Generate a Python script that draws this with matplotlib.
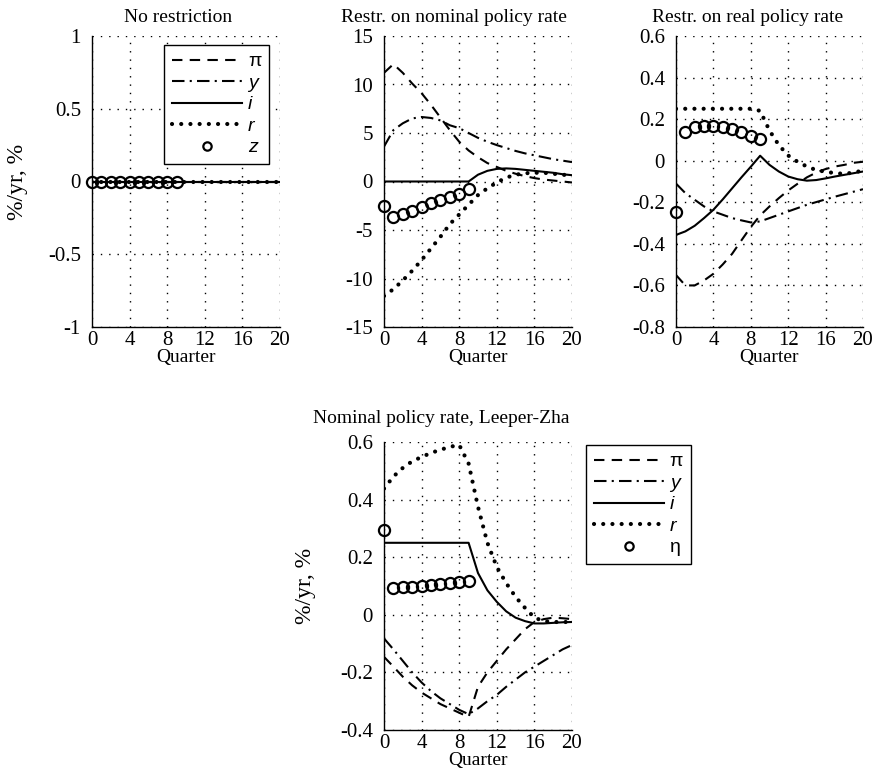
import numpy as np
import matplotlib
matplotlib.use("Agg")
import matplotlib.pyplot as plt
from matplotlib.ticker import FuncFormatter

plt.rcParams["font.family"] = ["Liberation Serif", "DejaVu Serif"]
plt.rcParams["axes.unicode_minus"] = False

quarters = np.arange(21)
z_quarters = np.arange(10)

# No restriction
nr_pi = np.zeros(21)
nr_y = np.zeros(21)
nr_i = np.zeros(21)
nr_r = np.zeros(21)
nr_z = np.zeros(10)

# Restriction on nominal policy rate
nom_pi = [11.2, 12.1, 11.2, 10.1, 9.1, 7.9, 6.6, 5.3, 4.1, 3.2, 2.5, 1.9, 1.5, 1.1, 0.8,
          0.55, 0.35, 0.2, 0.1, 0.0, -0.1]
nom_y = [3.6, 5.3, 6.0, 6.5, 6.65, 6.55, 6.3, 5.8, 5.5, 5.0, 4.5, 4.1, 3.75, 3.45, 3.15,
         2.9, 2.7, 2.5, 2.3, 2.15, 2.0]
nom_i = [0, 0, 0, 0, 0, 0, 0, 0, 0, 0, 0.7, 1.1, 1.3, 1.35, 1.3, 1.2, 1.1, 1.0, 0.9, 0.75, 0.65]
nom_r = [-11.8, -11.1, -10.2, -9.2, -8.1, -6.9, -5.7, -4.4, -3.4, -2.4, -1.4, -0.7, -0.1,
         0.4, 0.7, 0.85, 0.9, 0.9, 0.8, 0.7, 0.6]
nom_z = [-2.5, -3.7, -3.35, -3.0, -2.6, -2.25, -1.95, -1.6, -1.25, -0.8]

# Restriction on real policy rate
real_pi = [-0.55, -0.6, -0.6, -0.576, -0.544, -0.499, -0.448, -0.383, -0.319, -0.263, -0.22,
           -0.18, -0.143, -0.111, -0.08, -0.057, -0.04, -0.028, -0.02, -0.01, -0.005]
real_y = [-0.11, -0.156, -0.188, -0.22, -0.244, -0.26, -0.276, -0.287, -0.297, -0.292, -0.276,
          -0.26, -0.244, -0.228, -0.212, -0.199, -0.186, -0.173, -0.161, -0.149, -0.137]
real_i = [-0.357, -0.34, -0.313, -0.276, -0.236, -0.186, -0.133, -0.08, -0.029, 0.024, -0.02,
          -0.052, -0.076, -0.089, -0.096, -0.093, -0.085, -0.076, -0.068, -0.06, -0.052]
real_r = [0.25, 0.25, 0.25, 0.25, 0.25, 0.25, 0.25, 0.25, 0.25, 0.24, 0.145, 0.075, 0.025,
          -0.005, -0.028, -0.045, -0.053, -0.06, -0.063, -0.057, -0.047]
real_z = [-0.245, 0.137, 0.16, 0.169, 0.166, 0.162, 0.153, 0.137, 0.12, 0.104]

# Nominal policy rate, Leeper-Zha
lz_pi = [-0.146, -0.18, -0.215, -0.245, -0.27, -0.29, -0.31, -0.325, -0.34, -0.355, -0.25,
         -0.2, -0.16, -0.12, -0.085, -0.05, -0.025, -0.015, -0.01, -0.012, -0.015]
lz_y = [-0.082, -0.12, -0.16, -0.2, -0.235, -0.265, -0.29, -0.31, -0.33, -0.345, -0.325,
        -0.3, -0.278, -0.25, -0.225, -0.2, -0.18, -0.16, -0.14, -0.12, -0.105]
lz_i = [0.25, 0.25, 0.25, 0.25, 0.25, 0.25, 0.25, 0.25, 0.25, 0.25, 0.145, 0.085, 0.045,
        0.012, -0.01, -0.022, -0.03, -0.03, -0.028, -0.026, -0.025]
lz_r = [0.438, 0.48, 0.51, 0.533, 0.548, 0.562, 0.573, 0.583, 0.59, 0.525, 0.375, 0.25,
        0.166, 0.11, 0.062, 0.024, -0.01, -0.022, -0.025, -0.025, -0.025]
lz_eta = [0.294, 0.092, 0.095, 0.098, 0.101, 0.104, 0.107, 0.11, 0.114, 0.118]

W, H = 879, 780
fig = plt.figure(figsize=(W / 100, H / 100), dpi=100)


def fmt(v, pos):
    return "%g" % round(v, 3)


def draw_panel(rect, title, title_x, title_pad, pi, y, i, r, z, ylim, yticks, ylabel_x=None):
    left, top, right, bottom = rect
    ax = fig.add_axes([left / W, 1 - bottom / H, (right - left) / W, (bottom - top) / H])
    l1, = ax.plot(quarters, pi, color="k", lw=1.5, ls=(0, (5, 3.5)))
    l2, = ax.plot(quarters, y, color="k", lw=1.5, ls=(0, (6, 2.5, 1, 2.5)))
    l3, = ax.plot(quarters, i, color="k", lw=1.5, ls="-")
    l4, = ax.plot(quarters, r, color="k", lw=3.0, ls=(0, (0.01, 2.2)), dash_capstyle="round")
    l5, = ax.plot(z_quarters, z, ls="none", marker="o", ms=8, mfc="none", mec="k", mew=1.6,
                  clip_on=False, zorder=5)
    ax.set_xlim(0, 20)
    ax.set_ylim(*ylim)
    ax.set_xticks([0, 4, 8, 12, 16, 20])
    ax.set_yticks(yticks)
    ax.yaxis.set_major_formatter(FuncFormatter(fmt))
    ax.grid(True, color="k", ls=(0, (1, 5)), lw=1.0)
    for s in ["top", "right"]:
        ax.spines[s].set_visible(False)
    ax.spines["left"].set_linewidth(1.0)
    ax.spines["bottom"].set_linewidth(1.0)
    ax.tick_params(axis="x", length=0, labelsize=15, pad=3)
    ax.tick_params(axis="y", length=0, labelsize=15, pad=8)
    ax.set_title(title, fontsize=14, pad=title_pad, x=title_x)
    ax.set_xlabel("Quarter", fontsize=14, labelpad=-1)
    if ylabel_x is not None:
        ax.set_ylabel("%/yr, %", fontsize=17)
        ax.yaxis.set_label_coords(ylabel_x, 0.5)
    return ax, [l1, l2, l3, l4, l5]


def add_legend(ax, handles, labels, anchor, loc):
    leg = ax.legend(handles, labels, loc=loc, bbox_to_anchor=(anchor[0] / W, 1 - anchor[1] / H),
                    bbox_transform=fig.transFigure, borderaxespad=0, fancybox=False,
                    framealpha=1, edgecolor="k", handlelength=3.6, labelspacing=0.2,
                    handletextpad=0.3, borderpad=0.4, markerscale=0.75,
                    prop={"family": "Liberation Sans", "size": 14})
    leg.get_frame().set_linewidth(1.0)
    for k, t in enumerate(leg.get_texts()):
        if labels[k] in ("y", "i", "r", "z"):
            t.set_fontstyle("italic")
    return leg


ax1, h1 = draw_panel((92, 36, 280, 327), "No restriction", 0.457, 10, nr_pi, nr_y, nr_i, nr_r,
                     nr_z, (-1, 1), [-1, -0.5, 0, 0.5, 1], ylabel_x=-0.34)
add_legend(ax1, h1, ["\u03c0", "y", "i", "r", "z"], (269, 45), "upper right")

draw_panel((384, 36, 572, 327), "Restr. on nominal policy rate", 0.372, 10, nom_pi, nom_y,
           nom_i, nom_r, nom_z, (-15, 15), [-15, -10, -5, 0, 5, 10, 15])

draw_panel((676, 36, 863, 327), "Restr. on real policy rate", 0.385, 10, real_pi, real_y,
           real_i, real_r, real_z, (-0.8, 0.6), [-0.8, -0.6, -0.4, -0.2, 0, 0.2, 0.4, 0.6])

ax4, h4 = draw_panel((384, 442, 572, 730), "Nominal policy rate, Leeper-Zha", 0.303, 14,
                     lz_pi, lz_y, lz_i, lz_r, lz_eta, (-0.4, 0.6),
                     [-0.4, -0.2, 0, 0.2, 0.4, 0.6], ylabel_x=-0.36)
add_legend(ax4, h4, ["\u03c0", "y", "i", "r", "\u03b7"], (586, 445), "upper left")

fig.savefig("out.png", dpi=100)
